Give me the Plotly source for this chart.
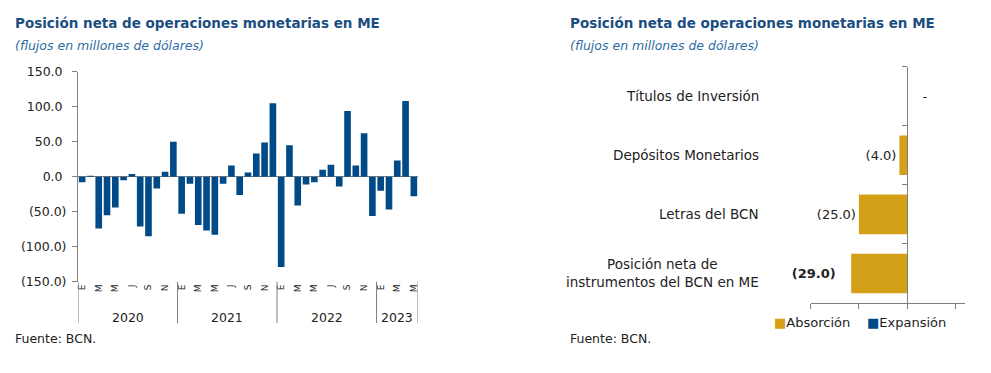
import plotly.graph_objects as go

# ---------------- data ----------------
month_letters = ["E", "F", "M", "A", "M", "J", "J", "A", "S", "O", "N", "D"]
years = ["2020", "2021", "2022", "2023"]
values_2020 = [-8, 1, -74, -55, -44, -5, 4, -71, -85, -17, 7, 50]
values_2021 = [-53, -10, -69, -77, -83, -10, 16, -26, 6, 33, 49, 105]
values_2022 = [-129, 45, -41, -11, -8, 10, 17, -14, 94, 16, 62, -56]
values_2023 = [-20, -47, 23, 108, -28]
y_ticks = [150, 100, 50, 0, -50, -100, -150]

instr_categories = ["Títulos de Inversión", "Depósitos Monetarios", "Letras del BCN",
                    "Posición neta de<br>instrumentos del BCN en ME"]
absorcion = [0, -4.0, -25.0, -29.0]
expansion = [0, 0, 0, 0]
absorcion_labels = ["\u00a0\u00a0\u00a0-", "(4.0)", "(25.0)", "<b>(29.0)</b>\u00a0\u00a0\u00a0"]

# ---------------- styles ----------------
BLUE = "#004B87"
GOLD = "#D4A017"
AXIS = "#7F7F7F"
TXT = "#222222"
TITLE_C = "#1B4E80"
SUB_C = "#2E6DA4"
FONT = "DejaVu Sans"
W, H = 991, 373

def px_x(p):
    return p / W

def px_y(p):
    return 1 - p / H

series = [values_2020, values_2021, values_2022, values_2023]
vals, xs, tickvals, ticktext = [], [], [], []
year_centers, boundaries = [], [-0.5]
idx = 0
for yr, s in zip(years, series):
    start = idx
    for m, v in enumerate(s):
        vals.append(v)
        xs.append(idx)
        if m % 2 == 0:
            tickvals.append(idx)
            ticktext.append(month_letters[m])
        idx += 1
    year_centers.append((start + idx - 1) / 2)
    boundaries.append(idx - 0.5)

def fmt(v):
    return f"({abs(v):.1f})" if v < 0 else f"{v:.1f}\u00a0"

fig = go.Figure()

fig.add_trace(go.Bar(x=xs, y=vals, marker=dict(color=BLUE, line=dict(width=0)),
                     xaxis="x", yaxis="y", showlegend=False))

fig.add_trace(go.Bar(y=instr_categories, x=absorcion, orientation="h", name="Absorción",
                     marker=dict(color=GOLD, line=dict(width=0)),
                     text=absorcion_labels, texttemplate="%{text}", textposition="outside",
                     textfont=dict(size=13, color=TXT, family=FONT), cliponaxis=False,
                     xaxis="x2", yaxis="y2", showlegend=False))
fig.add_trace(go.Bar(y=instr_categories, x=expansion, orientation="h", name="Expansión",
                     marker=dict(color=BLUE, line=dict(width=0)),
                     xaxis="x2", yaxis="y2", showlegend=False))

# left chart geometry
lx0, lx1 = px_x(78), px_x(418)
ly0, ly1 = px_y(281.7), px_y(71.7)
# right chart geometry
rx0, rx1 = px_x(810.7), px_x(965)
ry0, ry1 = px_y(303), px_y(66.7)
xr = [-50, 30]
zero_pos = rx0 + (0 - xr[0]) / (xr[1] - xr[0]) * (rx1 - rx0)

shapes = []
for b in boundaries:
    shapes.append(dict(type="line", xref="x", yref="paper", x0=b, x1=b,
                       y0=ly0, y1=px_y(323), line=dict(color=AXIS, width=1)))

annotations = []
for yr, c in zip(years, year_centers):
    annotations.append(dict(x=c, y=px_y(317), xref="x", yref="paper", text=yr,
                            showarrow=False, font=dict(size=12.5, color=TXT, family=FONT),
                            xanchor="center", yanchor="middle"))
for cat in instr_categories:
    annotations.append(dict(x=px_x(761), y=cat, xref="paper", yref="y2", text=cat,
                            showarrow=False, align="center", xanchor="right", yanchor="middle",
                            font=dict(size=13.5, color=TXT, family=FONT)))

for x0 in (13, 568):
    annotations.append(dict(x=px_x(x0), y=px_y(23), xref="paper", yref="paper",
                            text="<b>Posición neta de operaciones monetarias en ME</b>",
                            showarrow=False, xanchor="left", yanchor="middle",
                            font=dict(size=13.5, color=TITLE_C, family=FONT)))
    annotations.append(dict(x=px_x(x0), y=px_y(46), xref="paper", yref="paper",
                            text="<i>(flujos en millones de dólares)</i>",
                            showarrow=False, xanchor="left", yanchor="middle",
                            font=dict(size=12.5, color=SUB_C, family=FONT)))
    annotations.append(dict(x=px_x(x0), y=px_y(338), xref="paper", yref="paper",
                            text="Fuente: BCN.", showarrow=False, xanchor="left",
                            yanchor="middle", font=dict(size=12.5, color=TXT, family=FONT)))

# legend (right chart)
for name, col, x0 in (("Absorción", GOLD, 772), ("Expansión", BLUE, 865)):
    annotations.append(dict(x=px_x(x0), y=px_y(322), xref="paper", yref="paper",
                            text=f"<span style='color:{col}'>\u25A0</span>{name}",
                            showarrow=False, xanchor="left", yanchor="middle",
                            font=dict(size=13, color=TXT, family=FONT)))

fig.update_layout(
    width=W, height=H,
    margin=dict(l=0, r=0, t=0, b=0, autoexpand=False),
    paper_bgcolor="white", plot_bgcolor="white",
    font=dict(family=FONT, color=TXT),
    barmode="relative",
    bargap=0.2,
    showlegend=False,
    xaxis=dict(domain=[lx0, lx1], range=[-0.5, len(vals) - 0.5], anchor="y",
               tickvals=tickvals, ticktext=ticktext, tickangle=-90,
               tickfont=dict(size=9, color=TXT), ticks="", showline=False,
               showgrid=False, zeroline=False),
    yaxis=dict(domain=[ly0, ly1], range=[-150, 150], anchor="x",
               tickvals=y_ticks, ticktext=[fmt(v) for v in y_ticks],
               tickfont=dict(size=12.5, color=TXT), ticks="outside", ticklen=5,
               tickcolor=AXIS, showline=True, linecolor=AXIS, linewidth=1,
               showgrid=False, zeroline=True, zerolinecolor=AXIS, zerolinewidth=1,
               ticklabelstandoff=3),
    xaxis2=dict(domain=[rx0, rx1], range=xr, anchor="y2",
                tickvals=[-50, -25, 0, 25], showticklabels=False, ticks="outside",
                ticklen=5, tickcolor=AXIS, showline=True, linecolor=AXIS, linewidth=1,
                showgrid=False, zeroline=False),
    yaxis2=dict(domain=[ry0, ry1], anchor="free", position=zero_pos,
                autorange="reversed", type="category", showticklabels=False,
                ticks="outside", tickson="boundaries", ticklen=5, tickcolor=AXIS,
                showline=True, linecolor=AXIS, linewidth=1, showgrid=False),
    shapes=shapes,
    annotations=annotations,
)
fig.update_traces(width=0.67, selector=dict(orientation="h"))

fig.write_html("out.html", config=dict(displayModeBar=False),
               post_script="document.body.style.margin='0px';")
